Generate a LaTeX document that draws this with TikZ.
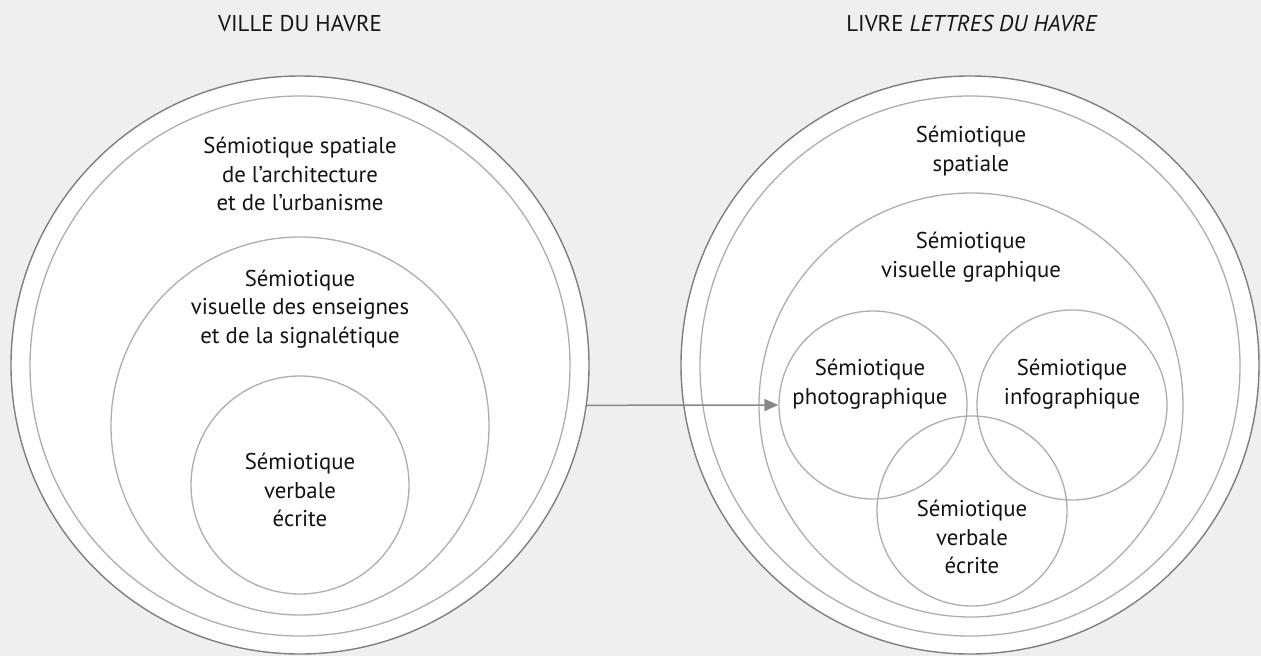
\documentclass[tikz,border=0pt]{standalone}
\usepackage{fontspec}
\setmainfont{PT Sans}
\usetikzlibrary{arrows.meta}
\definecolor{bg}{HTML}{EFEFEF}
\definecolor{ringdark}{HTML}{7F7F7F}
\definecolor{ringlight}{HTML}{AEAEAE}
\definecolor{txt}{HTML}{141414}
\definecolor{arrowc}{HTML}{888888}
\begin{document}
\begin{tikzpicture}[x=1pt,y=-1pt,
  outerring/.style={circle, draw=ringdark, line width=1.4pt, inner sep=0pt, fill=white},
  ring/.style={circle, draw=ringlight, line width=1.3pt, inner sep=0pt, fill=white},
  venn/.style={circle, draw=ringlight, line width=1.3pt, inner sep=0pt},
  lbl/.style={align=center, text=txt, font=\fontsize{22.8}{28.7}\selectfont, inner sep=0pt},
  conn/.style={draw=arrowc, line width=1.5pt, -{Triangle[length=14pt,width=12pt]}}]
\fill[bg] (0,0) rectangle (1261,656);
\useasboundingbox (0,0) rectangle (1261,656);
% left diagram
\node[outerring, minimum size=578pt] (LO) at (300,365) {};
\node[ring, minimum size=540pt] (LI) at (300,366) {};
\node[ring, minimum size=378pt] (LV) at (300,426) {};
\node[ring, minimum size=218pt] (LW) at (300,485) {};
% right diagram
\node[outerring, minimum size=578pt] (RO) at (970,365) {};
\node[ring, minimum size=540pt] (RI) at (970,366) {};
\node[ring, minimum size=424pt] (RV) at (971,405) {};
\node[venn, minimum size=188pt] (RP) at (873,405) {};
\node[venn, minimum size=190pt] (RF) at (1072,405) {};
\node[venn, minimum size=190pt] (RW) at (972,511) {};
% texts
\node[lbl] (Ltitle) at (300,24) {VILLE DU HAVRE};
\node[lbl] (Ltxt1) at (300,174) {Sémiotique spatiale\\de l’architecture\\et de l’urbanisme};
\node[lbl] (Ltxt2) at (300,309) {Sémiotique\\visuelle des enseignes\\et de la signalétique};
\node[lbl] (Ltxt3) at (300,490) {Sémiotique\\verbale\\écrite};
\node[lbl] (Rtitle) at (972,24) {LIVRE \textit{LETTRES DU HAVRE}};
\node[lbl] (Rtxt1) at (971,151) {Sémiotique\\spatiale};
\node[lbl] (Rtxt2) at (971,257) {Sémiotique\\visuelle graphique};
\node[lbl] (Rtxt3) at (870,384) {Sémiotique\\photographique};
\node[lbl] (Rtxt4) at (1072,384) {Sémiotique\\infographique};
\node[lbl] (Rtxt5) at (972,537) {Sémiotique\\verbale\\écrite};
% connector
\draw[conn] (LO.-8) -- (RP.west);
\end{tikzpicture}
\end{document}
